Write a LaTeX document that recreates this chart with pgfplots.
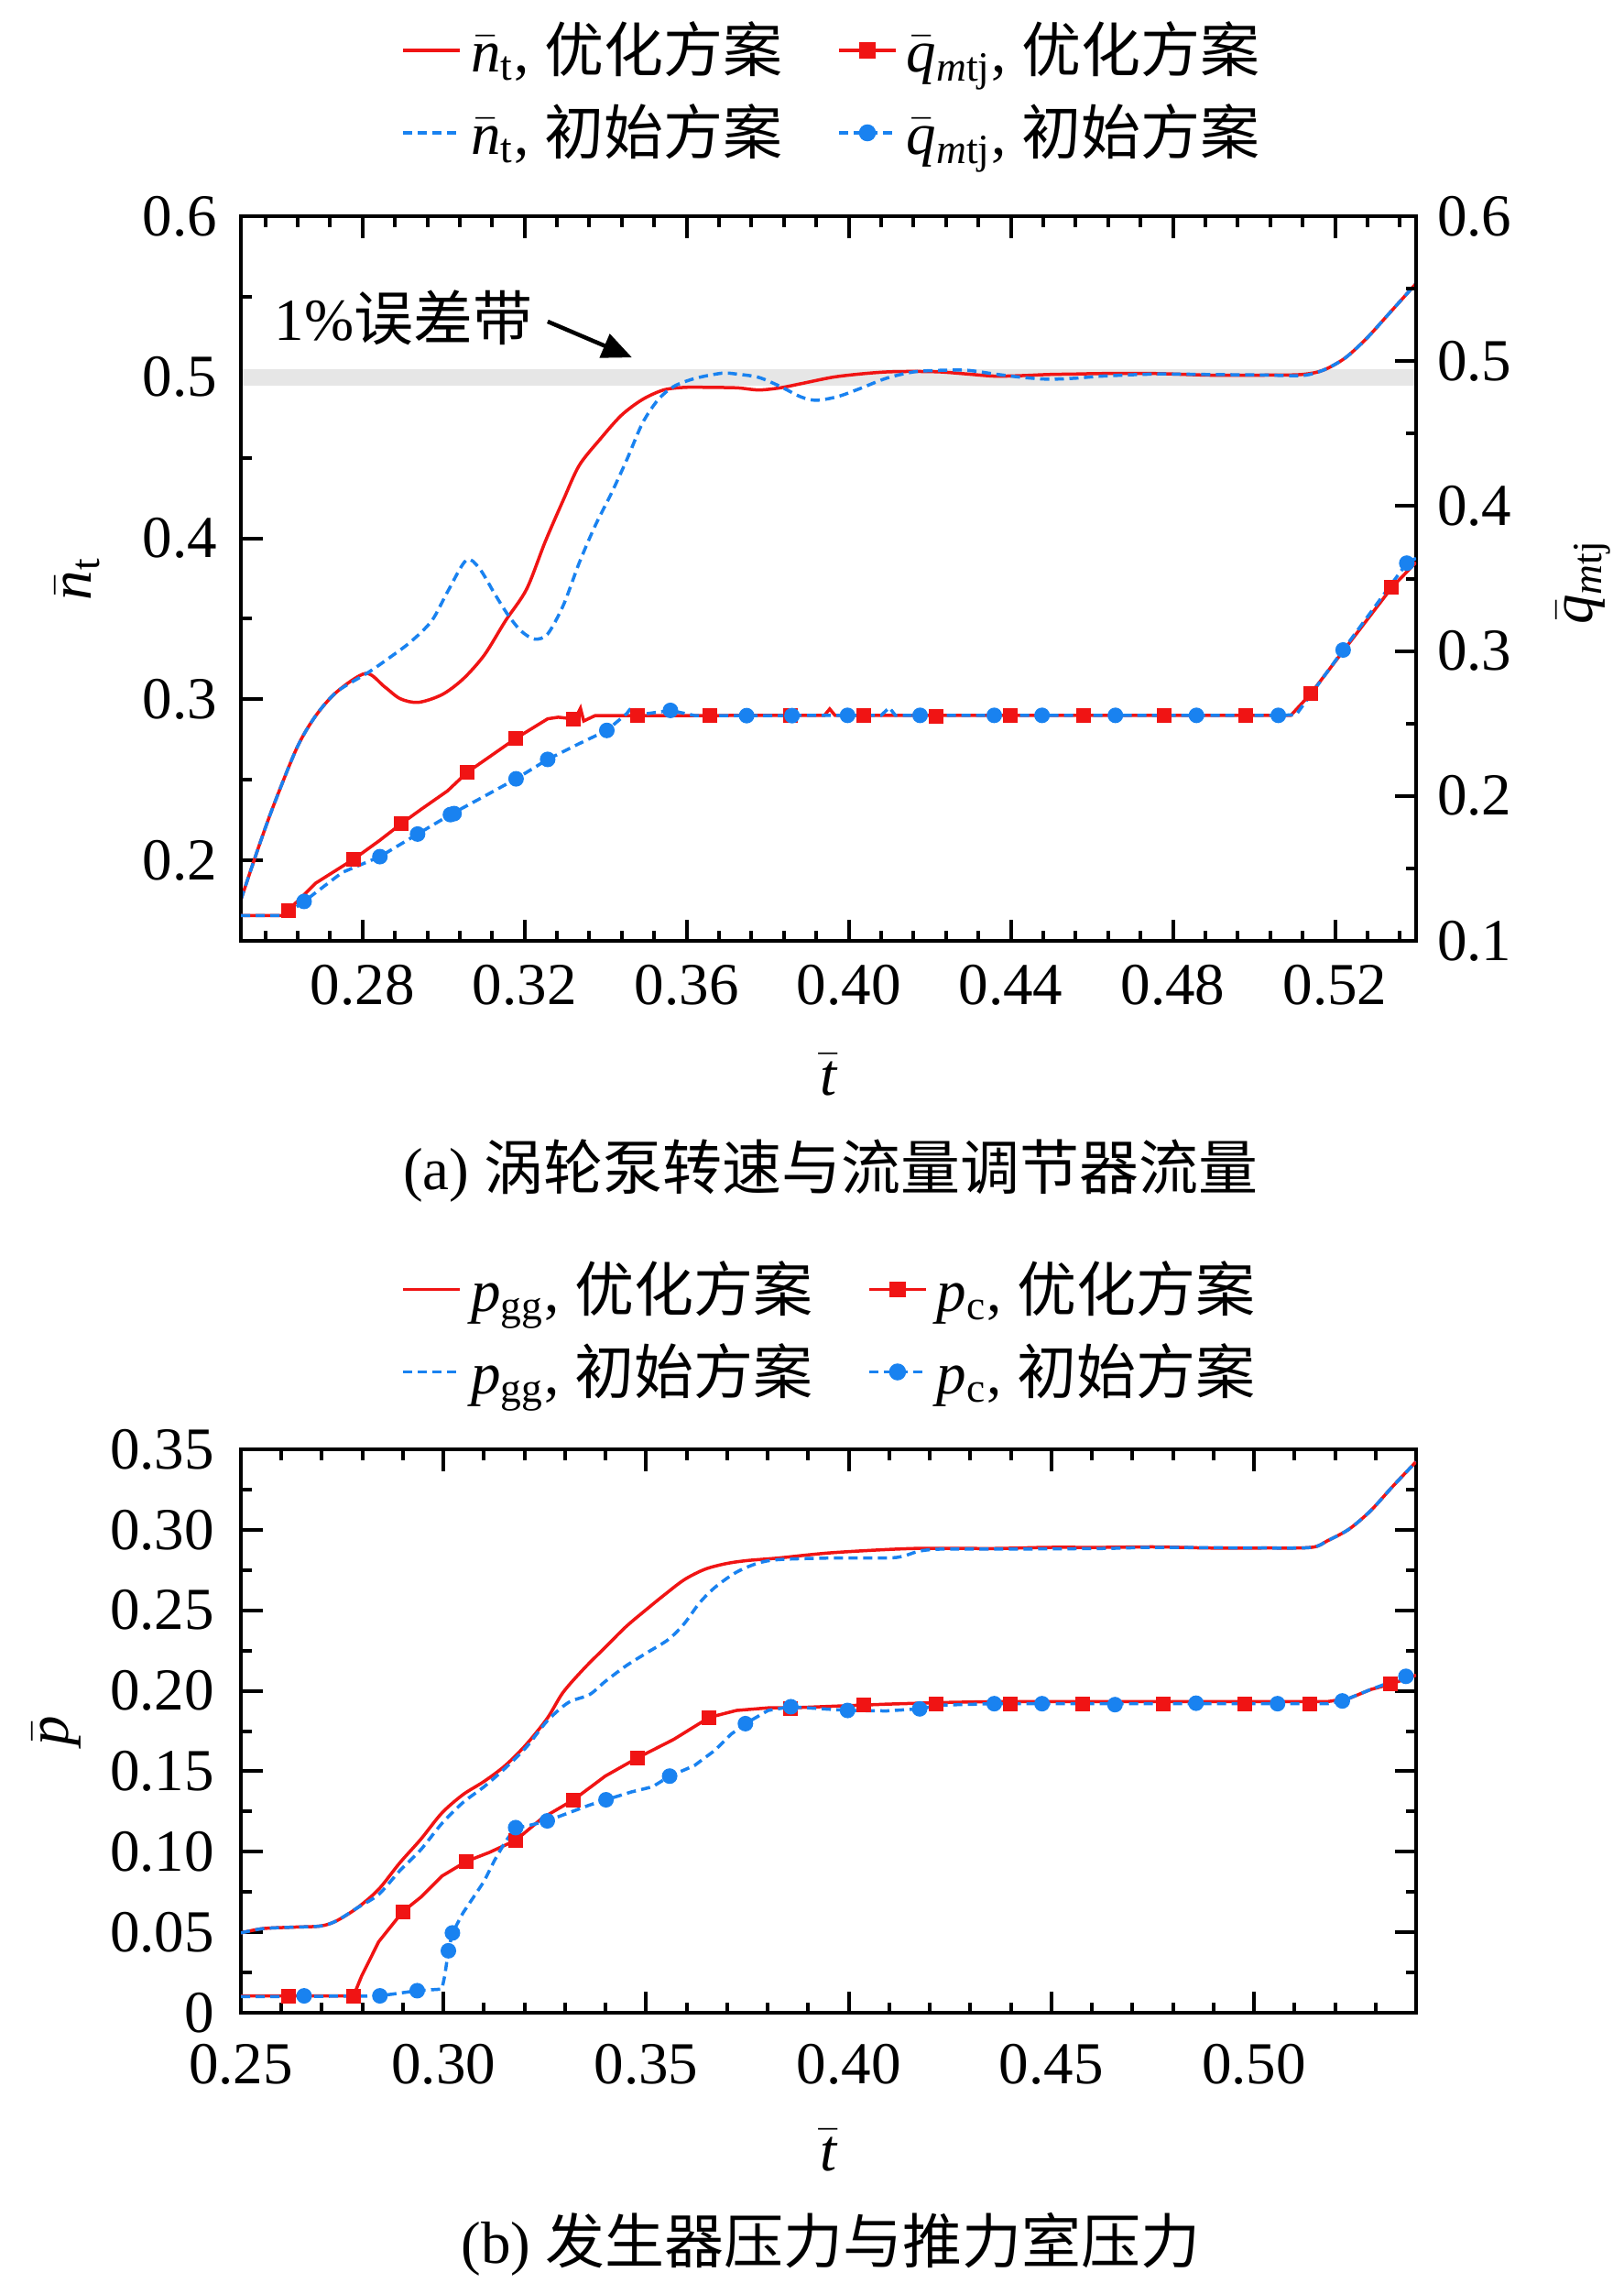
\documentclass[border=0pt]{standalone}
\usepackage{fontspec}
\setmainfont{Liberation Serif}
\newfontfamily\cjk{Noto Sans CJK SC}
\usepackage{pgfplots}
\pgfplotsset{compat=1.18}
\usetikzlibrary{arrows.meta}

\definecolor{cred}{RGB}{240,20,20}
\definecolor{cblue}{RGB}{25,130,240}
\definecolor{band}{RGB}{230,230,230}

\newcommand{\fs}{\fontsize{13}{15.6}\selectfont}

\pgfplotsset{
  myaxis/.style={
    scale only axis,
    width=256.6pt,
    xmin=0.25, xmax=0.54,
    axis line style={line width=0.9pt},
    every tick/.style={line width=0.8pt, black},
    major tick length=4.7pt,
    minor tick length=2.3pt,
    tick align=inside,
    /pgf/number format/assume math mode=true,
    tick label style={font=\fs},
    legend columns=2,
    legend cell align=left,
    legend style={draw=none, fill=none, font=\fs, row sep=1.5pt,
      /tikz/every even column/.append style={column sep=10pt}},
    legend image code/.code={\draw[mark repeat=2,mark phase=2] plot coordinates {(0pt,0pt) (6.2pt,0pt) (12.4pt,0pt)};},
  },
  redline/.style={cred, line width=0.7pt},
  blueline/.style={cblue, line width=0.7pt, dash pattern=on 2pt off 1.2pt},
  redmark/.style={only marks, cred, mark=square*, mark size=1.4pt},
  bluemark/.style={only marks, cblue, mark=*, mark size=1.5pt},
  sm/.style={smooth, tension=0.5},
}

\begin{document}
\begin{tikzpicture}
\path[use as bounding box] (0,0) rectangle (354.4pt,-498.4pt);

% ---------------- (a) top: n_t on left axis ----------------
\begin{axis}[myaxis, name=top, at={(52.6pt,-47.2pt)}, anchor=north west,
  height=158.2pt, ymin=0.15, ymax=0.6,
  xticklabel style={inner sep=1pt, yshift=-4.1pt},
  yticklabel style={inner sep=1pt, xshift=-4pt},
  xtick={0.28,0.32,0.36,0.40,0.44,0.48,0.52},
  xticklabels={0.28,0.32,0.36,0.40,0.44,0.48,0.52},
  minor xtick={0.256,0.264,0.272,0.288,0.296,0.304,0.312,0.328,0.336,0.344,0.352,0.368,0.376,0.384,0.392,0.408,0.416,0.424,0.432,0.448,0.456,0.464,0.472,0.488,0.496,0.504,0.512,0.528,0.536},
  ytick={0.2,0.3,0.4,0.5,0.6},
  yticklabels={0.2,0.3,0.4,0.5,0.6},
  minor ytick={0.25,0.35,0.45,0.55},
  ytick pos=left,
]
\addplot[fill=band, draw=none, forget plot] coordinates {(0.25,0.495) (0.54,0.495) (0.54,0.505) (0.25,0.505)} -- cycle;
% n_t optimized
\addplot[redline, sm, forget plot] coordinates {
(0.2500,0.1755) (0.2542,0.2070) (0.2581,0.2343) (0.2639,0.2703) (0.2685,0.2899)
(0.2737,0.3047) (0.2808,0.3161) (0.2854,0.3079) (0.2893,0.3004) (0.2938,0.2981)
(0.2997,0.3030) (0.3049,0.3128) (0.3101,0.3276) (0.3153,0.3488) (0.3205,0.3684)
(0.3251,0.3979) (0.3296,0.4240) (0.3335,0.4453) (0.3387,0.4617) (0.3439,0.4764)
(0.3491,0.4862) (0.3543,0.4921) (0.3595,0.4937) (0.3660,0.4937) (0.3726,0.4934)
(0.3778,0.4921) (0.3830,0.4934) (0.3882,0.4960) (0.3960,0.5000) (0.4027,0.5020)
(0.4093,0.5033) (0.4160,0.5036) (0.4226,0.5033) (0.4293,0.5020) (0.4360,0.5007)
(0.4426,0.5010) (0.4492,0.5017) (0.4559,0.5020) (0.4625,0.5023) (0.4758,0.5023)
(0.4891,0.5013) (0.5024,0.5013) (0.5117,0.5017) (0.5170,0.5043) (0.5224,0.5118)
(0.5277,0.5239) (0.5330,0.5386) (0.5400,0.5582)};
% n_t initial
\addplot[blueline, sm, forget plot] coordinates {
(0.2500,0.1755) (0.2542,0.2070) (0.2581,0.2343) (0.2639,0.2703) (0.2685,0.2899)
(0.2737,0.3047) (0.2815,0.3168) (0.2867,0.3259) (0.2919,0.3357) (0.2971,0.3488)
(0.3010,0.3668) (0.3056,0.3864) (0.3088,0.3815) (0.3127,0.3652) (0.3160,0.3521)
(0.3192,0.3423) (0.3225,0.3374) (0.3257,0.3406) (0.3296,0.3586) (0.3335,0.3848)
(0.3374,0.4077) (0.3413,0.4273) (0.3452,0.4486) (0.3491,0.4715) (0.3530,0.4862)
(0.3569,0.4944) (0.3621,0.4993) (0.3687,0.5025) (0.3726,0.5019) (0.3778,0.4999)
(0.3830,0.4944) (0.3882,0.4878) (0.3920,0.4857) (0.3973,0.4880) (0.4027,0.4929)
(0.4093,0.4994) (0.4160,0.5033) (0.4226,0.5043) (0.4293,0.5043) (0.4360,0.5020)
(0.4426,0.5000) (0.4492,0.4988) (0.4559,0.4994) (0.4625,0.5007) (0.4758,0.5020)
(0.4891,0.5017) (0.5024,0.5014) (0.5117,0.5010) (0.5170,0.5043) (0.5224,0.5118)
(0.5277,0.5239) (0.5330,0.5386) (0.5400,0.5582)};
\node[font=\fs, anchor=west, inner sep=0pt] at (axis cs:0.2581,0.5369) {1\%{\cjk 误差带}};
\draw[line width=0.9pt, -{Triangle[length=6.5pt,width=5.5pt]}] (axis cs:0.3257,0.5346) -- (axis cs:0.3465,0.5123);
\end{axis}

% ---------------- (a) top: q_mtj on right axis ----------------
\begin{axis}[myaxis, at={(52.6pt,-47.2pt)}, anchor=north west,
  height=158.2pt, ymin=0.1, ymax=0.6,
  hide x axis,
  yticklabel style={inner sep=1pt, xshift=3.4pt},
  ytick={0.1,0.2,0.3,0.4,0.5,0.6},
  yticklabels={0.1,0.2,0.3,0.4,0.5,0.6},
  minor ytick={0.15,0.25,0.35,0.45,0.55},
  ytick pos=right, yticklabel pos=right,
  legend style={at={(0.5,1)}, anchor=center, yshift=27.2pt, xshift=1.5pt},
]
\addlegendimage{redline}
\addlegendentry{$\bar{\mathit{n}}_{\mathrm{t}}$, {\cjk 优化方案}}
\addlegendimage{redline, mark=square*, mark size=1.4pt, mark options={solid}}
\addlegendentry{$\bar{\mathit{q}}_{\mathit{m}\mathrm{tj}}$, {\cjk 优化方案}}
\addlegendimage{blueline}
\addlegendentry{$\bar{\mathit{n}}_{\mathrm{t}}$, {\cjk 初始方案}}
\addlegendimage{blueline, mark=*, mark size=1.5pt, mark options={solid}}
\addlegendentry{$\bar{\mathit{q}}_{\mathit{m}\mathrm{tj}}$, {\cjk 初始方案}}
% q optimized
\addplot[redline, forget plot] coordinates {
(0.2500,0.1174) (0.2607,0.1174) (0.2617,0.1211) (0.2685,0.1399) (0.2778,0.1563)
(0.2841,0.1690) (0.2896,0.1809) (0.2945,0.1908) (0.3010,0.2035) (0.3058,0.2162)
(0.3114,0.2271) (0.3179,0.2398) (0.3257,0.2532) (0.3283,0.2543) (0.3320,0.2532)
(0.3329,0.2554) (0.3338,0.2605) (0.3346,0.2517) (0.3374,0.2554) (0.3478,0.2554)
(0.3940,0.2556) (0.3953,0.2600) (0.3966,0.2556) (0.5091,0.2556) (0.5140,0.2705)
(0.5224,0.3014) (0.5340,0.3438) (0.5400,0.3612)};
\addplot[redmark, forget plot] coordinates {
(0.2617,0.1211) (0.2778,0.1563) (0.2896,0.1809) (0.3058,0.2162) (0.3179,0.2398)
(0.3320,0.2532) (0.3478,0.2554) (0.3658,0.2554) (0.3856,0.2556) (0.4036,0.2556)
(0.4215,0.2550) (0.4399,0.2556) (0.4579,0.2556) (0.4778,0.2556) (0.4979,0.2556)
(0.5140,0.2705) (0.5340,0.3438)};
% q initial
\addplot[blueline, forget plot] coordinates {
(0.2500,0.1174) (0.2607,0.1174) (0.2656,0.1272) (0.2750,0.1472) (0.2843,0.1581)
(0.2936,0.1737) (0.3017,0.1871) (0.3101,0.1998) (0.3179,0.2118) (0.3257,0.2252)
(0.3335,0.2361) (0.3403,0.2452) (0.3452,0.2568) (0.3465,0.2615) (0.3485,0.2561)
(0.3560,0.2590) (0.3621,0.2554) (0.4080,0.2556) (0.4100,0.2610) (0.4115,0.2556)
(0.5060,0.2556) (0.5104,0.2560) (0.5220,0.3007) (0.5377,0.3606) (0.5400,0.3640)};
\addplot[bluemark, forget plot] coordinates {
(0.2656,0.1272) (0.2843,0.1581) (0.2936,0.1737) (0.3017,0.1871) (0.3026,0.1878)
(0.3179,0.2118) (0.3257,0.2252) (0.3403,0.2452) (0.3560,0.2590) (0.3748,0.2554)
(0.3860,0.2554) (0.3997,0.2556) (0.4176,0.2556) (0.4359,0.2556) (0.4477,0.2556)
(0.4658,0.2556) (0.4858,0.2556) (0.5060,0.2556) (0.5220,0.3007) (0.5377,0.3606)};
\end{axis}

\node[font=\fs, rotate=90] at (17pt,-126.3pt) {$\bar{\mathit{n}}_{\mathrm{t}}$};
\node[font=\fs, rotate=90] at (345.8pt,-127pt) {$\bar{\mathit{q}}_{\mathit{m}\mathrm{tj}}$};
\node[font=\fs] at (180.9pt,-234.6pt) {$\bar{\mathit{t}}$};
\node[font=\fs] at (181.4pt,-255.6pt) {(a) {\cjk 涡轮泵转速与流量调节器流量}};

% ---------------- (b) bottom ----------------
\begin{axis}[myaxis, at={(52.6pt,-316.4pt)}, anchor=north west,
  height=123pt, ymin=0, ymax=0.35,
  xticklabel style={inner sep=1pt, yshift=-5.6pt},
  yticklabel style={inner sep=1pt, xshift=-4.6pt},
  xtick={0.25,0.30,0.35,0.40,0.45,0.50},
  xticklabels={0.25,0.30,0.35,0.40,0.45,0.50},
  minor xtick={0.26,0.27,0.28,0.29,0.31,0.32,0.33,0.34,0.36,0.37,0.38,0.39,0.41,0.42,0.43,0.44,0.46,0.47,0.48,0.49,0.51,0.52,0.53},
  ytick={0,0.05,0.10,0.15,0.20,0.25,0.30,0.35},
  yticklabels={0,0.05,0.10,0.15,0.20,0.25,0.30,0.35},
  minor ytick={0.025,0.075,0.125,0.175,0.225,0.275,0.325},
  legend style={at={(0.5,1)}, anchor=center, yshift=25.9pt, xshift=1pt},
]
\addlegendimage{redline}
\addlegendentry{$\mathit{p}_{\mathrm{gg}}$, {\cjk 优化方案}}
\addlegendimage{redline, mark=square*, mark size=1.4pt, mark options={solid}}
\addlegendentry{$\mathit{p}_{\mathrm{c}}$, {\cjk 优化方案}}
\addlegendimage{blueline}
\addlegendentry{$\mathit{p}_{\mathrm{gg}}$, {\cjk 初始方案}}
\addlegendimage{blueline, mark=*, mark size=1.5pt, mark options={solid}}
\addlegendentry{$\mathit{p}_{\mathrm{c}}$, {\cjk 初始方案}}
% p_gg optimized
\addplot[redline, sm, forget plot] coordinates {
(0.2500,0.0496) (0.2555,0.0523) (0.2632,0.0532) (0.2697,0.0539) (0.2736,0.0571)
(0.2788,0.0653) (0.2840,0.0767) (0.2892,0.0931) (0.2944,0.1078) (0.2996,0.1241)
(0.3048,0.1355) (0.3100,0.1437) (0.3152,0.1535) (0.3204,0.1666) (0.3256,0.1829)
(0.3295,0.1990) (0.3347,0.2139) (0.3399,0.2270) (0.3451,0.2400) (0.3503,0.2510)
(0.3542,0.2590) (0.3594,0.2690) (0.3645,0.2755) (0.3697,0.2790) (0.3749,0.2809)
(0.3827,0.2825) (0.3960,0.2858) (0.4159,0.2884) (0.4358,0.2884) (0.4491,0.2891)
(0.4624,0.2891) (0.4757,0.2894) (0.4890,0.2887) (0.5023,0.2887) (0.5142,0.2891)
(0.5182,0.2933) (0.5235,0.3005) (0.5288,0.3119) (0.5341,0.3266) (0.5400,0.3423)};
% p_c optimized
\addplot[redline, forget plot] coordinates {
(0.2500,0.0105) (0.2778,0.0105) (0.2798,0.0229) (0.2840,0.0441) (0.2899,0.0627)
(0.2944,0.0718) (0.2996,0.0849) (0.3057,0.0941) (0.3113,0.0996) (0.3178,0.1071)
(0.3243,0.1208) (0.3321,0.1323) (0.3399,0.1470) (0.3479,0.1584) (0.3568,0.1698)
(0.3656,0.1835) (0.3723,0.1878) (0.3801,0.1894) (0.3857,0.1894) (0.3960,0.1904)
(0.4093,0.1917) (0.4226,0.1927) (0.4358,0.1933) (0.5182,0.1933) (0.5235,0.1953)
(0.5288,0.2008) (0.5337,0.2041) (0.5400,0.2097)};
\addplot[redmark, forget plot] coordinates {
(0.2617,0.0105) (0.2778,0.0105) (0.2899,0.0627) (0.3057,0.0941) (0.3178,0.1071)
(0.3321,0.1323) (0.3479,0.1584) (0.3656,0.1835) (0.3857,0.1888) (0.4036,0.1911)
(0.4215,0.1920) (0.4398,0.1920) (0.4578,0.1920) (0.4777,0.1920) (0.4977,0.1920)
(0.5138,0.1920) (0.5337,0.2041)};
% p_gg initial
\addplot[blueline, sm, forget plot] coordinates {
(0.2500,0.0496) (0.2555,0.0523) (0.2632,0.0532) (0.2697,0.0539) (0.2736,0.0571)
(0.2788,0.0653) (0.2840,0.0735) (0.2892,0.0882) (0.2944,0.1013) (0.2996,0.1176)
(0.3048,0.1306) (0.3100,0.1404) (0.3152,0.1519) (0.3204,0.1649) (0.3256,0.1813)
(0.3308,0.1927) (0.3360,0.1976) (0.3399,0.2058) (0.3451,0.2156) (0.3503,0.2238)
(0.3555,0.2319) (0.3594,0.2417) (0.3632,0.2547) (0.3671,0.2645) (0.3723,0.2737)
(0.3775,0.2792) (0.3827,0.2815) (0.3960,0.2825) (0.4093,0.2825) (0.4133,0.2835)
(0.4173,0.2867) (0.4226,0.2880) (0.4358,0.2880) (0.4624,0.2884) (0.4757,0.2891)
(0.5023,0.2887) (0.5142,0.2891) (0.5182,0.2933) (0.5235,0.3005) (0.5288,0.3119)
(0.5341,0.3266) (0.5400,0.3423)};
% p_c initial
\addplot[blueline, forget plot] coordinates {
(0.2500,0.0100) (0.2840,0.0104) (0.2935,0.0137) (0.2996,0.0147) (0.3003,0.0229)
(0.3012,0.0385) (0.3022,0.0496) (0.3048,0.0620) (0.3074,0.0718) (0.3100,0.0816)
(0.3126,0.0947) (0.3152,0.1061) (0.3178,0.1149) (0.3204,0.1159) (0.3256,0.1192)
(0.3308,0.1241) (0.3360,0.1290) (0.3401,0.1323) (0.3464,0.1372) (0.3516,0.1404)
(0.3558,0.1470) (0.3619,0.1535) (0.3671,0.1633) (0.3710,0.1731) (0.3745,0.1796)
(0.3801,0.1878) (0.3857,0.1901) (0.3997,0.1878) (0.4093,0.1875) (0.4175,0.1888)
(0.4226,0.1911) (0.4359,0.1920) (0.5182,0.1920) (0.5218,0.1937) (0.5288,0.2008)
(0.5375,0.2090) (0.5400,0.2106)};
\addplot[bluemark, forget plot] coordinates {
(0.2656,0.0105) (0.2843,0.0105) (0.2935,0.0137) (0.3012,0.0385) (0.3022,0.0496)
(0.3178,0.1150) (0.3256,0.1192) (0.3401,0.1323) (0.3558,0.1470) (0.3745,0.1796)
(0.3857,0.1901) (0.3997,0.1878) (0.4175,0.1888) (0.4359,0.1920) (0.4477,0.1920)
(0.4657,0.1914) (0.4857,0.1923) (0.5058,0.1920) (0.5218,0.1937) (0.5375,0.2090)};
\end{axis}

\node[font=\fs, rotate=90] at (12.4pt,-377.9pt) {$\bar{\mathit{p}}$};
\node[font=\fs] at (180.9pt,-469.4pt) {$\bar{\mathit{t}}$};
\node[font=\fs] at (181.4pt,-490pt) {(b) {\cjk 发生器压力与推力室压力}};
\end{tikzpicture}
\end{document}
